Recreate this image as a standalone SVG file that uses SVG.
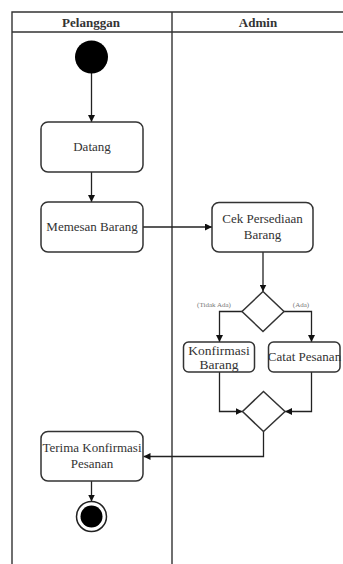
<svg xmlns="http://www.w3.org/2000/svg" width="343" height="564" viewBox="0 0 343 564">
<style>
.lane{fill:none;stroke:#333;stroke-width:1.4}
.box{fill:#fff;stroke:#333;stroke-width:1.5}
.t{font-family:"Liberation Serif","Times New Roman",serif;font-size:13px;fill:#333;text-anchor:middle}
.h{font-family:"Liberation Serif","Times New Roman",serif;font-size:13px;font-weight:bold;fill:#333;text-anchor:middle}
.g{font-family:"Liberation Serif","Times New Roman",serif;font-size:7px;fill:#777;text-anchor:middle}
.c{fill:none;stroke:#222;stroke-width:1.3;marker-end:url(#ah)}
</style>
<defs>
<marker id="ah" viewBox="0 0 10 10" refX="10" refY="5" markerWidth="7" markerHeight="7" markerUnits="userSpaceOnUse" orient="auto"><path d="M0,0 L10,5 L0,10 Z" fill="#111"/></marker>
</defs>
<rect width="343" height="564" fill="#fff"/>
<g id="swimlanes">
<path class="lane" d="M12,564 V12 H343 M12,32 H343 M172,12 V564"/>
<text class="h" x="91" y="27">Pelanggan</text>
<text class="h" x="258" y="27">Admin</text>
</g>
<g id="connectors">
<path class="c" d="M91.5,73 V122"/>
<path class="c" d="M91.5,172 V202"/>
<path class="c" d="M143,227 H212"/>
<path class="c" d="M263,252 V291.5"/>
<path class="c" d="M242,311.5 H219.5 V342"/>
<path class="c" d="M284,311.5 H311.5 V342"/>
<path class="c" d="M219.5,372 V411.5 H242.5"/>
<path class="c" d="M311.5,372 V411.5 H285"/>
<path class="c" d="M263.5,431.5 V456.5 H143.5"/>
<path class="c" d="M91.5,481 V501.5"/>
<text class="g" x="214" y="307">(Tidak Ada)</text>
<text class="g" x="301" y="307">(Ada)</text>
</g>
<g id="start"><circle cx="91.5" cy="57" r="16.5" fill="#000"/></g>
<g id="datang"><rect class="box" x="41" y="122" width="102" height="50" rx="7"/><text class="t" x="92" y="151">Datang</text></g>
<g id="memesan"><rect class="box" x="41" y="202" width="102" height="50" rx="7"/><text class="t" x="92" y="231">Memesan Barang</text></g>
<g id="cek"><rect class="box" x="212" y="202.5" width="101" height="49.5" rx="7"/><text class="t" x="262.5" y="223">Cek Persediaan</text><text class="t" x="262.5" y="239">Barang</text></g>
<g id="decision"><path class="box" d="M263,291.5 L284,311.5 L263,331.5 L242,311.5 Z"/></g>
<g id="konfirmasi"><rect class="box" x="183.5" y="342" width="71" height="30" rx="5"/><text class="t" style="font-size:13.5px" x="219" y="355">Konfirmasi</text><text class="t" style="font-size:13.5px" x="219" y="369">Barang</text></g>
<g id="catat"><rect class="box" x="268.5" y="342" width="71.5" height="30" rx="5"/><text class="t" x="304.5" y="361">Catat Pesanan</text></g>
<g id="merge"><path class="box" d="M263.5,391.5 L285,411.5 L263.5,431.5 L242.5,411.5 Z"/></g>
<g id="terima"><rect class="box" x="41" y="431.5" width="102" height="49.5" rx="7"/><text class="t" x="92" y="452">Terima Konfirmasi</text><text class="t" x="92" y="468">Pesanan</text></g>
<g id="end"><circle cx="91.5" cy="516.5" r="15" fill="#fff" stroke="#222" stroke-width="1.5"/><circle cx="91.5" cy="516.5" r="11" fill="#000"/></g>
</svg>
